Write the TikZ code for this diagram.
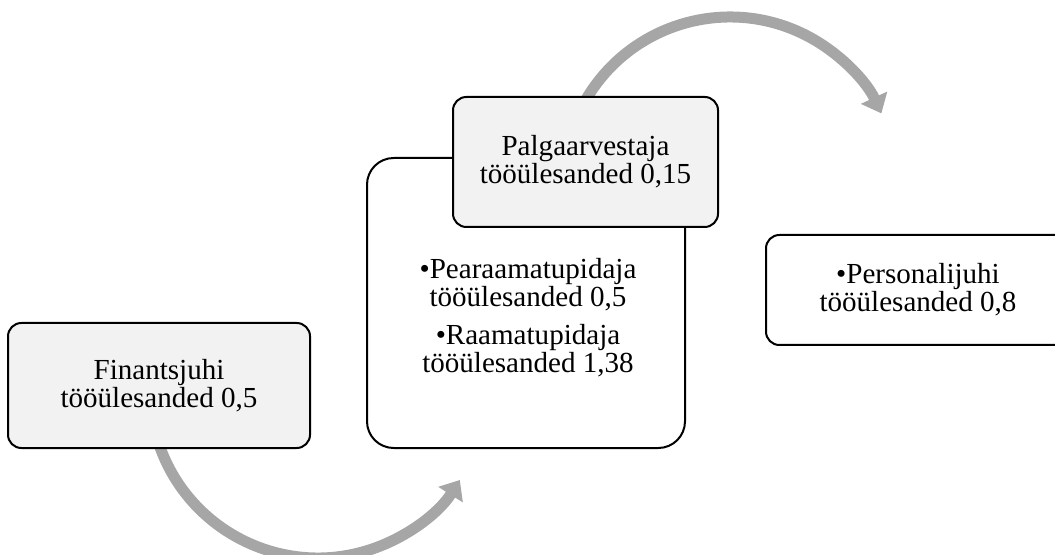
\documentclass[tikz,border=0pt]{standalone}
\usepackage{fontspec}
\setmainfont{Liberation Serif}
\usetikzlibrary{arrows.meta}
\definecolor{boxgray}{HTML}{F2F2F2}
\definecolor{flowgray}{HTML}{A6A6A6}
\tikzset{
  card/.style={draw=black, line width=1.5pt, rounded corners=10pt, inner sep=0pt,
    align=center, font=\fontsize{21.8}{21}\selectfont},
  shaded card/.style={card, fill=boxgray},
  plain card/.style={card, fill=white},
  flow/.style={draw=flowgray, line width=8.25pt, -{Triangle[length=13pt,width=21pt]}},
  label text/.style={align=center, font=\fontsize{21.8}{21}\selectfont, inner sep=0pt}
}
\begin{document}
\begin{tikzpicture}[x=0.75pt,y=-0.75pt]
\useasboundingbox (0,0) rectangle (1055,555);
\clip (0,0) rectangle (1055,555);

% curved flow arrows, drawn first so the cards cover their tails
\coordinate (lowStart) at (158.2,441.9);
\draw[flow] (lowStart) arc[start angle=198, end angle=327.6, radius=126pt];
\coordinate (highStart) at (585.4,100.5);
\draw[flow] (highStart) arc[start angle=150, end angle=25, radius=125.25pt];

% cards
\node[shaded card, minimum width=226.5pt, minimum height=93.75pt] (fin) at (159,385.5)
  {Finantsjuhi\\tööülesanded 0,5};
\node[plain card, rounded corners=20pt, minimum width=238.5pt, minimum height=217.5pt] (acct) at (526,303) {};
\node[label text] (acctText) at (528,318)
  {•Pearaamatupidaja\\tööülesanded 0,5\\[7.5pt]•Raamatupidaja\\tööülesanded 1,38};
\node[shaded card, minimum width=198.75pt, minimum height=97.5pt] (pay) at (585.5,162)
  {Palgaarvestaja\\tööülesanded 0,15};
\node[plain card, minimum width=228pt, minimum height=82.5pt] (hr) at (918,290)
  {•Personalijuhi\\tööülesanded 0,8};
\end{tikzpicture}
\end{document}
